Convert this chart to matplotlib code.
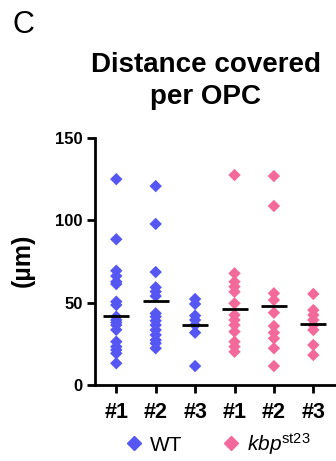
import matplotlib
matplotlib.use("Agg")
import matplotlib.pyplot as plt
from matplotlib.lines import Line2D
import numpy as np

plt.rcParams['font.family'] = ['Liberation Sans', 'DejaVu Sans']
plt.rcParams['mathtext.fontset'] = 'custom'
plt.rcParams['mathtext.rm'] = 'Liberation Sans'
plt.rcParams['mathtext.it'] = 'Liberation Sans:italic'

# ---- data ----
tick_labels = ["#1", "#2", "#3", "#1", "#2", "#3"]
group_genotype = ["WT", "WT", "WT", "kbp", "kbp", "kbp"]

wt_1 = [125, 88.5, 69.4, 66.2, 62.7, 61.3, 50.6, 48.6, 41.5, 39.5, 38.0, 36.4,
        33.5, 26.3, 23.3, 21.3, 19.2, 13.2]
wt_2 = [120.8, 97.8, 68.6, 59.3, 56.7, 54.0, 43.5, 41.5, 39.0, 36.4, 33.4, 30.4,
        27.3, 25.3, 22.3]
wt_3 = [52.2, 49.2, 42.1, 39.5, 36.4, 31.8, 11.5]
kbp_1 = [127.5, 67.8, 62.7, 59.7, 56.6, 49.6, 42.5, 39.5, 36.4, 32.4, 26.3,
         23.3, 20.2]
kbp_2 = [126.9, 108.7, 55.7, 51.6, 43.9, 35.8, 31.8, 28.3, 22.3, 11.5]
kbp_3 = [55.3, 45.5, 42.5, 39.5, 36.4, 33.4, 24.3, 18.2]
groups = [wt_1, wt_2, wt_3, kbp_1, kbp_2, kbp_3]
center_lines = [42.2, 51.2, 36.4, 46.1, 48.0, 37.0]

colors = {"WT": "#5656F2", "kbp": "#F2699A"}

# ---- figure ----
fig = plt.figure(figsize=(3.36, 4.61), dpi=100)
ax = fig.add_axes([95/336, 1-385/461, 240/336, 247/461])

positions = np.arange(len(groups))
for pos, vals, g in zip(positions, groups, group_genotype):
    ax.scatter(np.full(len(vals), pos), vals, marker='D', s=40,
               color=colors[g], edgecolors='none', zorder=3)
for pos, m in zip(positions, center_lines):
    ax.plot([pos - 0.33, pos + 0.33], [m, m], color='black', lw=2, zorder=4,
            solid_capstyle='butt')

ax.set_ylim(0, 150)
ax.set_xlim(-0.54, 5.55)
ax.set_yticks([0, 50, 100, 150])
ax.set_xticks(positions)
ax.set_xticklabels(tick_labels, fontsize=15.5, fontweight='bold')
for lab in ax.get_yticklabels():
    lab.set_fontsize(12)
    lab.set_fontweight('bold')
ax.tick_params(axis='both', width=2, length=6, pad=3)
ax.tick_params(axis='x', pad=6)
for s in ['top', 'right']:
    ax.spines[s].set_visible(False)
for s in ['left', 'bottom']:
    ax.spines[s].set_linewidth(2)

fig.text(23/336, 1-260/461, "(µm)", rotation=90, fontsize=18,
         fontweight='bold', ha='center', va='center')

fig.text(206/336, 1-65/461, "Distance covered", fontsize=20,
         fontweight='bold', ha='center', va='center')
fig.text(206/336, 1-97/461, "per OPC", fontsize=20,
         fontweight='bold', ha='center', va='center')

fig.text(12/336, 1-25/461, "C", fontsize=22, ha='left', va='center')

handles = [Line2D([], [], marker='D', ls='none', color=colors["WT"], markersize=7.5),
           Line2D([], [], marker='D', ls='none', color=colors["kbp"], markersize=7.5)]
fig.legend(handles, ["WT", r"$\mathit{kbp}^{\mathrm{st23}}$"], ncol=2,
           loc='center', bbox_to_anchor=(218/336, 1-444/461), frameon=False,
           fontsize=15, handlelength=0.8, handletextpad=0.4, columnspacing=1.9,
           borderpad=0, borderaxespad=0)

fig.savefig("out.png", dpi=100)
